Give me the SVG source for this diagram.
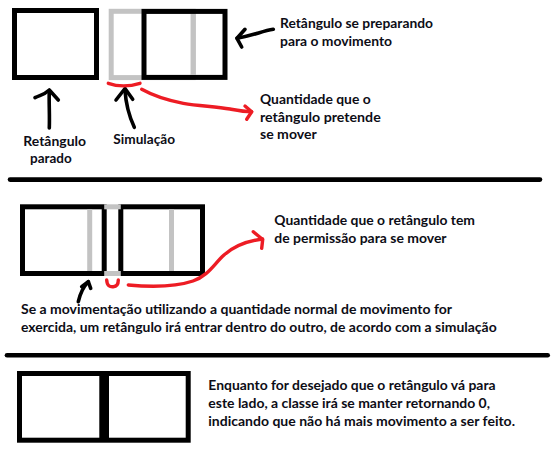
<svg xmlns="http://www.w3.org/2000/svg" width="560" height="458" viewBox="0 0 560 458">
<style>
  .bk{fill:#fff;stroke:#000;stroke-width:5}
  .gr{fill:none;stroke:#c3c3c3;stroke-width:5}
  .grl{stroke:#c3c3c3;stroke-width:5}
  .sep{stroke:#000;stroke-width:4.6;stroke-linecap:round}
  .ink{fill:none;stroke:#000;stroke-width:3.6;stroke-linecap:round;stroke-linejoin:round}
  .red{fill:none;stroke:#ed1c24;stroke-width:3.4;stroke-linecap:round;stroke-linejoin:round}
  text{font-family:Lato,"Liberation Sans",sans-serif;font-weight:700;font-size:13px;fill:#0d0d16}
</style>
<rect width="560" height="458" fill="#fff"/>

<!-- Section 1 -->
<g id="rect-parado">
  <rect class="bk" x="14.5" y="10.5" width="82" height="67"/>
</g>
<g id="simulacao-1">
  <rect class="gr" x="111.2" y="11.3" width="82" height="66.3"/>
</g>
<g id="rect-preparando">
  <rect class="bk" x="144" y="11.4" width="81" height="66" style="fill:none"/>
  <line class="grl" x1="193.3" y1="14" x2="193.3" y2="75"/>
</g>
<g id="label-preparando">
  <text x="280" y="28" textLength="153" lengthAdjust="spacingAndGlyphs">Retângulo se preparando</text>
  <text x="280" y="46" textLength="112" lengthAdjust="spacingAndGlyphs">para o movimento</text>
</g>
<g id="label-parado">
  <text x="23.3" y="145.5" textLength="62.7" lengthAdjust="spacingAndGlyphs">Retângulo</text>
  <text x="30" y="162.5" textLength="41.7" lengthAdjust="spacingAndGlyphs">parado</text>
</g>
<g id="label-simulacao">
  <text x="113.3" y="144.3" textLength="61.7" lengthAdjust="spacingAndGlyphs">Simulação</text>
</g>
<g id="label-pretende">
  <text x="260" y="104" textLength="110.7" lengthAdjust="spacingAndGlyphs">Quantidade que o</text>
  <text x="260" y="121.6" textLength="120.7" lengthAdjust="spacingAndGlyphs">retângulo pretende</text>
  <text x="260" y="139.2" textLength="56.7" lengthAdjust="spacingAndGlyphs">se mover</text>
</g>

<!-- Section 2 -->
<g id="separador-1"><line class="sep" x1="10" y1="179.6" x2="540" y2="179.6"/></g>
<g id="rect-esquerdo-2">
  <rect class="bk" x="22.5" y="206.8" width="81.7" height="66.7"/>
</g>
<g id="rect-direito-2">
  <rect class="bk" x="120.8" y="206.8" width="81.7" height="66.7"/>
</g>
<g id="simulacao-2">
  <line class="grl" x1="89.7" y1="209.3" x2="89.7" y2="271"/>
  <line class="grl" x1="171.5" y1="209.3" x2="171.5" y2="271"/>
  <line class="grl" x1="104.2" y1="206.8" x2="120.8" y2="206.8"/>
  <line class="grl" x1="104.2" y1="273.5" x2="120.8" y2="273.5"/>
</g>
<g id="label-permissao">
  <text x="274.3" y="225" textLength="200.7" lengthAdjust="spacingAndGlyphs">Quantidade que o retângulo tem</text>
  <text x="274.3" y="242.7" textLength="172.3" lengthAdjust="spacingAndGlyphs">de permissão para se mover</text>
</g>
<g id="label-movimentacao">
  <text x="21" y="314" textLength="431" lengthAdjust="spacingAndGlyphs">Se a movimentação utilizando a quantidade normal de movimento for</text>
  <text x="21" y="331.7" textLength="475.7" lengthAdjust="spacingAndGlyphs">exercida, um retângulo irá entrar dentro do outro, de acordo com a simulação</text>
</g>

<!-- Section 3 -->
<g id="separador-2"><line class="sep" x1="7" y1="355.3" x2="547.7" y2="355.3"/></g>
<g id="rects-juntos">
  <rect class="bk" x="19.5" y="373.5" width="168.7" height="66.7"/>
  <rect x="99.3" y="373" width="9.7" height="67.5" fill="#000"/>
</g>
<g id="label-enquanto">
  <text x="208.3" y="390" textLength="287.3" lengthAdjust="spacingAndGlyphs">Enquanto for desejado que o retângulo vá para</text>
  <text x="208.3" y="407.8" textLength="281.7" lengthAdjust="spacingAndGlyphs">este lado, a classe irá se manter retornando 0,</text>
  <text x="208.3" y="426" textLength="306.7" lengthAdjust="spacingAndGlyphs">indicando que não há mais movimento a ser feito.</text>
</g>

<!-- Connectors -->
<g id="connectors">
  <!-- preparando arrow -->
  <path class="ink" d="M273.3,29.3 C262,31 255,35 237,38.3"/>
  <path class="ink" d="M245,29.3 L237,38.3 L241.7,47"/>
  <!-- parado arrow -->
  <path class="ink" d="M49.3,128 C49.8,115 48.8,102 49.3,91"/>
  <path class="ink" d="M35,97.7 C40,95 44,95 49.3,90 L58.3,100"/>
  <!-- simulacao arrow -->
  <path class="ink" d="M134.3,127.3 C130,118 126,108 125,90"/>
  <path class="ink" d="M116,100 L125,88.5 L132.7,99.3"/>
  <!-- red bracket + arrow section 1 -->
  <path class="red" d="M108.3,83.3 Q123,88.5 140,83.3"/>
  <path class="red" d="M141.7,89.3 C152,95 165,100 183.3,103.3 C200,106 216,106.5 230,109 C238,110.5 244,111.7 251.7,111.7"/>
  <path class="red" d="M245,106 L251.7,111.7 L246.7,119.3"/>
  <!-- section 2 arrows -->
  <path class="ink" d="M78.3,301.7 C80,294 83,287 88.3,281.7"/>
  <path class="ink" d="M81.7,286.7 L88.3,281.7 L90.7,288.3"/>
  <path class="red" d="M106.7,280 C107,286 110,287 113.3,286.7 C117,286.5 118.3,284 118.3,280"/>
  <path class="red" d="M128.3,285 C150,287 175,287 193,281 C208,276 214,264 224,255 C234,246 247,241 262.5,239"/>
  <path class="red" d="M253.3,231.7 L262.7,239.5 L261.7,248.3"/>
</g>
</svg>
